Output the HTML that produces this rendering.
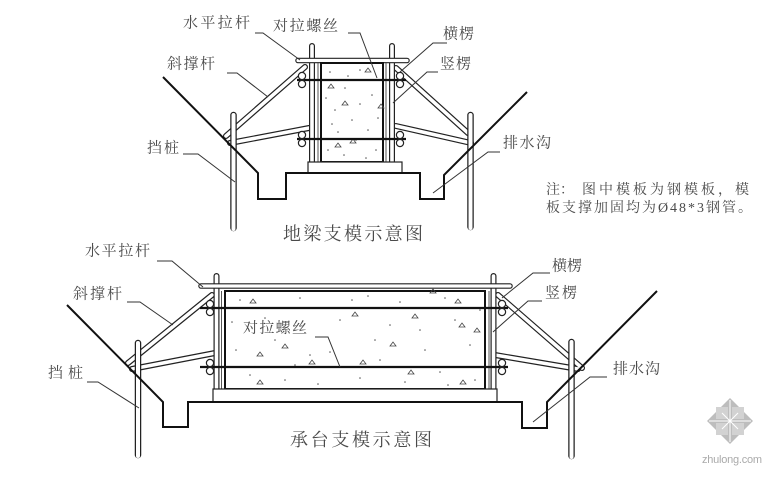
<!DOCTYPE html>
<html><head><meta charset="utf-8"><style>
html,body{margin:0;padding:0;background:#fff;}
svg{display:block;}
text{font-family:"Liberation Serif","Noto Serif CJK SC",serif;fill:#4a4a4a;}
</style></head><body>
<svg width="780" height="481" viewBox="0 0 780 481" xmlns="http://www.w3.org/2000/svg">
<rect width="780" height="481" fill="#fff"/>

<!-- ========== TOP DIAGRAM ========== -->
<g stroke-linecap="round" fill="none">
  <g stroke="#222" stroke-width="6">
    <path d="M226,136 L305,67"/><path d="M230,143 L309,128"/>
    <path d="M396,68 L468,133"/><path d="M396,126 L471,143"/>
  </g>
  <g stroke="#fff" stroke-width="3.6">
    <path d="M226,136 L305,67"/><path d="M230,143 L309,128"/>
    <path d="M396,68 L468,133"/><path d="M396,126 L471,143"/>
  </g>
  <g stroke="#222" stroke-width="6.5"><path d="M233.5,228 L233.5,115"/><path d="M470.5,227 L470.5,115"/></g>
  <g stroke="#fff" stroke-width="4"><path d="M233.5,229 L233.5,115"/><path d="M470.5,228 L470.5,115"/></g>
  <g stroke="#222" stroke-width="6"><path d="M312,162 L312,46"/><path d="M392,162 L392,46"/></g>
  <g stroke="#fff" stroke-width="3.6"><path d="M312,162 L312,46"/><path d="M392,162 L392,46"/></g>
  <path d="M298,60.5 L407,60.5" stroke="#222" stroke-width="5.5"/>
  <path d="M298,60.5 L407,60.5" stroke="#fff" stroke-width="3.2"/>
</g>
<rect x="321" y="63" width="62" height="99" fill="#fff" stroke="#111" stroke-width="2"/>
<path d="M318,63 L318,162 M386,63 L386,162" stroke="#444" stroke-width="0.9"/>
<rect x="308" y="162" width="94" height="11" fill="#fff" stroke="#222" stroke-width="1.2"/>
<g fill="#555">
  <circle cx="330" cy="72" r="0.8"/><circle cx="345" cy="88" r="0.8"/><circle cx="360" cy="70" r="0.8"/>
  <circle cx="372" cy="95" r="0.8"/><circle cx="335" cy="110" r="0.8"/><circle cx="352" cy="120" r="0.8"/>
  <circle cx="368" cy="130" r="0.8"/><circle cx="328" cy="150" r="0.8"/><circle cx="344" cy="155" r="0.8"/>
  <circle cx="376" cy="150" r="0.8"/><circle cx="360" cy="104" r="0.8"/><circle cx="338" cy="132" r="0.8"/>
  <circle cx="326" cy="98" r="0.8"/><circle cx="356" cy="140" r="0.8"/><circle cx="378" cy="118" r="0.8"/>
  <circle cx="348" cy="76" r="0.8"/><circle cx="332" cy="124" r="0.8"/><circle cx="366" cy="158" r="0.8"/>
</g>
<g fill="none" stroke="#444" stroke-width="0.8">
  <path d="M328,88 l3,-4 l3,4 z"/><path d="M365,72 l3,-4 l3,4 z"/><path d="M342,105 l3,-4 l3,4 z"/>
  <path d="M378,108 l3,-4 l3,4 z"/><path d="M335,147 l3,-4 l3,4 z"/><path d="M350,143 l3,-4 l3,4 z"/>
</g>
<path d="M297,80 L406,80 M297,139 L406,139" stroke="#111" stroke-width="2.2"/>
<g fill="#fff" stroke="#222" stroke-width="1.2">
  <circle cx="302" cy="76" r="3.6"/><circle cx="302" cy="84" r="3.6"/>
  <circle cx="302" cy="135" r="3.6"/><circle cx="302" cy="143" r="3.6"/>
  <circle cx="400" cy="76" r="3.6"/><circle cx="400" cy="84" r="3.6"/>
  <circle cx="400" cy="135" r="3.6"/><circle cx="400" cy="143" r="3.6"/>
</g>
<path d="M163,77 L258,173 L258,199 L286,199 L286,173 L420,173 L420,199 L444,199 L444,175 L527,92" fill="none" stroke="#111" stroke-width="2"/>
<g fill="none" stroke="#333" stroke-width="1">
  <path d="M255,33 L263,33 L300,60"/>
  <path d="M348,33 L360,33 L377,78"/>
  <path d="M227,73 L237,73 L268,97"/>
  <path d="M183,154 L198,154 L235,182"/>
  <path d="M447,43 L433,43 L400,72"/>
  <path d="M438,72 L427,72 L393,103"/>
  <path d="M500,152 L488,152 L433,193"/>
</g>
<g font-size="15">
  <text x="183" y="27.5" textLength="67" lengthAdjust="spacing">水平拉杆</text>
  <text x="273" y="30.5" textLength="65" lengthAdjust="spacing">对拉螺丝</text>
  <text x="167" y="68.5" textLength="48" lengthAdjust="spacing">斜撑杆</text>
  <text x="147" y="152.5" textLength="32" lengthAdjust="spacing">挡桩</text>
  <text x="443" y="38.5" textLength="31" lengthAdjust="spacing">横楞</text>
  <text x="440" y="68.5" textLength="31" lengthAdjust="spacing">竖楞</text>
  <text x="503" y="147.5" textLength="48" lengthAdjust="spacing">排水沟</text>
</g>
<text x="283" y="240" font-size="18" textLength="140" lengthAdjust="spacing">地梁支模示意图</text>

<g font-size="14">
  <text x="546" y="194">注：</text>
  <text x="582" y="194" textLength="167" lengthAdjust="spacing">图中模板为钢模板，模</text>
  <text x="546" y="212" textLength="206" lengthAdjust="spacing">板支撑加固均为Ø48*3钢管。</text>
</g>

<!-- ========== BOTTOM DIAGRAM ========== -->
<g stroke-linecap="round" fill="none">
  <g stroke="#222" stroke-width="6">
    <path d="M128,363 L212,295"/><path d="M132,369 L215,353"/>
    <path d="M498,295 L582,368"/><path d="M495,355 L578,369"/>
  </g>
  <g stroke="#fff" stroke-width="3.6">
    <path d="M128,363 L212,295"/><path d="M132,369 L215,353"/>
    <path d="M498,295 L582,368"/><path d="M495,355 L578,369"/>
  </g>
  <g stroke="#222" stroke-width="6.5"><path d="M138,455 L138,343"/><path d="M571.5,456 L571.5,342"/></g>
  <g stroke="#fff" stroke-width="4"><path d="M138,456 L138,343"/><path d="M571.5,457 L571.5,342"/></g>
  <g stroke="#222" stroke-width="6"><path d="M216.5,390 L216.5,276"/><path d="M493.5,389 L493.5,276"/></g>
  <g stroke="#fff" stroke-width="3.6"><path d="M216.5,390 L216.5,276"/><path d="M493.5,389 L493.5,276"/></g>
  <path d="M201,286 L510,286" stroke="#222" stroke-width="5.5"/>
  <path d="M201,286 L510,286" stroke="#fff" stroke-width="3.2"/>
</g>
<rect x="225" y="291" width="260" height="98" fill="#fff" stroke="#111" stroke-width="2"/>
<path d="M221.5,291 L221.5,389 M489,291 L489,389" stroke="#444" stroke-width="0.9"/>
<rect x="213" y="389" width="284" height="13" fill="#fff" stroke="#222" stroke-width="1.2"/>
<g fill="#555">
  <circle cx="240" cy="300" r="0.8"/><circle cx="265" cy="318" r="0.8"/><circle cx="300" cy="298" r="0.8"/>
  <circle cx="330" cy="352" r="0.8"/><circle cx="352" cy="300" r="0.8"/><circle cx="375" cy="340" r="0.8"/>
  <circle cx="400" cy="302" r="0.8"/><circle cx="420" cy="330" r="0.8"/><circle cx="445" cy="298" r="0.8"/>
  <circle cx="470" cy="345" r="0.8"/><circle cx="250" cy="375" r="0.8"/><circle cx="285" cy="380" r="0.8"/>
  <circle cx="318" cy="384" r="0.8"/><circle cx="360" cy="378" r="0.8"/><circle cx="405" cy="382" r="0.8"/>
  <circle cx="440" cy="372" r="0.8"/><circle cx="475" cy="380" r="0.8"/><circle cx="236" cy="350" r="0.8"/>
  <circle cx="390" cy="325" r="0.8"/><circle cx="455" cy="320" r="0.8"/><circle cx="310" cy="355" r="0.8"/>
  <circle cx="232" cy="322" r="0.8"/><circle cx="275" cy="340" r="0.8"/><circle cx="340" cy="320" r="0.8"/>
  <circle cx="368" cy="296" r="0.8"/><circle cx="425" cy="350" r="0.8"/><circle cx="480" cy="310" r="0.8"/>
  <circle cx="295" cy="365" r="0.8"/><circle cx="380" cy="360" r="0.8"/><circle cx="448" cy="385" r="0.8"/>
</g>
<g fill="none" stroke="#444" stroke-width="0.8">
  <path d="M250,303 l3,-4 l3,4 z"/><path d="M352,316 l3,-4 l3,4 z"/><path d="M412,318 l3,-4 l3,4 z"/>
  <path d="M455,303 l3,-4 l3,4 z"/><path d="M459,327 l3,-4 l3,4 z"/><path d="M257,356 l3,-4 l3,4 z"/>
  <path d="M309,364 l3,-4 l3,4 z"/><path d="M360,364 l3,-4 l3,4 z"/><path d="M408,374 l3,-4 l3,4 z"/>
  <path d="M460,384 l3,-4 l3,4 z"/><path d="M474,332 l3,-4 l3,4 z"/><path d="M282,348 l3,-4 l3,4 z"/>
  <path d="M390,346 l3,-4 l3,4 z"/><path d="M430,293 l3,-4 l3,4 z"/><path d="M257,384 l3,-4 l3,4 z"/>
</g>
<path d="M200,308 L508,308 M200,367 L508,367" stroke="#111" stroke-width="2.2"/>
<g fill="#fff" stroke="#222" stroke-width="1.2">
  <circle cx="210" cy="304" r="3.6"/><circle cx="210" cy="312" r="3.6"/>
  <circle cx="210" cy="363" r="3.6"/><circle cx="210" cy="371" r="3.6"/>
  <circle cx="502" cy="304" r="3.6"/><circle cx="502" cy="312" r="3.6"/>
  <circle cx="502" cy="363" r="3.6"/><circle cx="502" cy="371" r="3.6"/>
</g>
<path d="M67,305 L163,402 L163,427 L188,427 L188,402 L522,402 L522,428 L547,428 L547,402 L657,291" fill="none" stroke="#111" stroke-width="2"/>
<g fill="none" stroke="#333" stroke-width="1">
  <path d="M157,261 L172,261 L203,287"/>
  <path d="M127,302 L140,302 L173,325"/>
  <path d="M87,382 L98,382 L139,408"/>
  <path d="M315,337 L328,337 L340,367"/>
  <path d="M550,273 L533,273 L502,298"/>
  <path d="M542,301 L528,301 L493,332"/>
  <path d="M607,377 L590,377 L533,422"/>
</g>
<g font-size="15">
  <text x="85" y="255.5" textLength="65" lengthAdjust="spacing">水平拉杆</text>
  <text x="73" y="298.5" textLength="49" lengthAdjust="spacing">斜撑杆</text>
  <text x="48" y="377.5" textLength="35" lengthAdjust="spacing">挡桩</text>
  <text x="243" y="332.5" textLength="64" lengthAdjust="spacing">对拉螺丝</text>
  <text x="552" y="270.5" textLength="30" lengthAdjust="spacing">横楞</text>
  <text x="545" y="297.5" textLength="32" lengthAdjust="spacing">竖楞</text>
  <text x="613" y="373.5" textLength="47" lengthAdjust="spacing">排水沟</text>
</g>
<text x="290" y="446" font-size="18" textLength="142" lengthAdjust="spacing">承台支模示意图</text>

<!-- watermark -->
<g opacity="0.75">
  <path d="M730,398 L753,421 L730,444 L707,421 Z" fill="#a8a8a8"/>
  <rect x="716" y="407" width="12" height="12" fill="#c4c4c4"/>
  <rect x="732" y="407" width="12" height="12" fill="#c4c4c4"/>
  <rect x="716" y="423" width="12" height="12" fill="#c4c4c4"/>
  <rect x="732" y="423" width="12" height="12" fill="#c4c4c4"/>
  <path d="M730,400 L730,442 M709,421 L751,421 M722,413 L738,429 M738,413 L722,429" stroke="#fff" stroke-width="1"/>
</g>
<text x="702" y="463" font-size="11" style="fill:#aaa;font-family:'Liberation Sans',sans-serif" textLength="60" lengthAdjust="spacing">zhulong.com</text>
</svg>
</body></html>
